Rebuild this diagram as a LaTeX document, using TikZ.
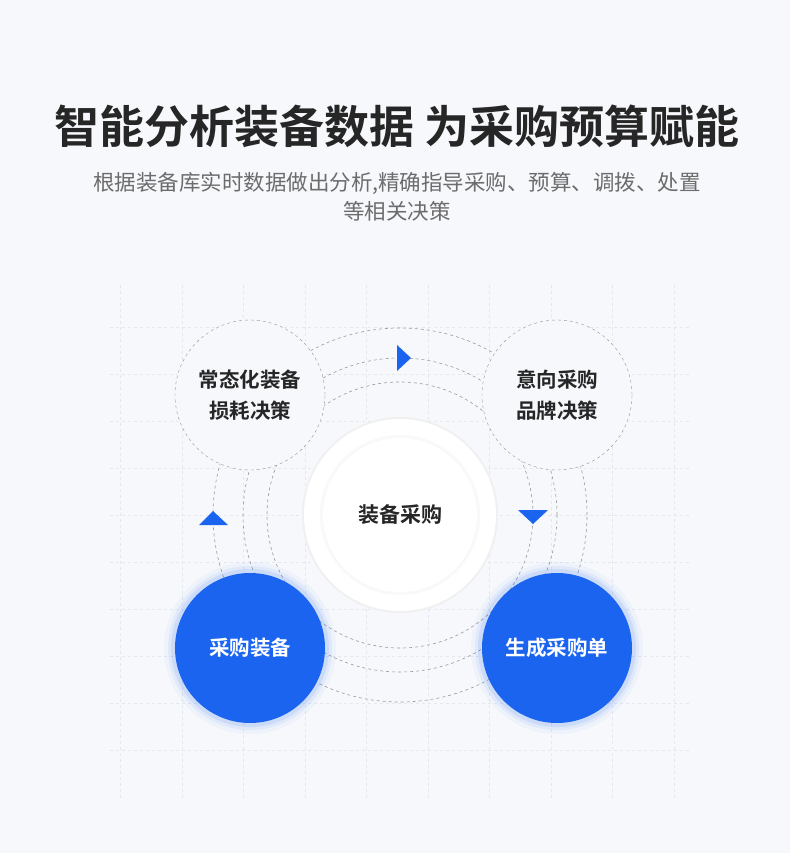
\documentclass[tikz,border=0pt]{standalone}
\usepackage{fontspec}
\setmainfont{Noto Sans CJK SC}
\newfontfamily\cjkbold{Noto Sans CJK SC Bold}
\usetikzlibrary{positioning}
\definecolor{bgcol}{HTML}{F6F8FC}
\definecolor{blue}{HTML}{1A64F0}
\definecolor{ink}{HTML}{262626}
\definecolor{gridcol}{HTML}{E3E7EF}
\tikzset{
  phase/.style={circle, minimum size=150pt, inner sep=0pt, align=center, font=\cjkbold\fontsize{20.5}{31}\selectfont},
  plain/.style={phase, fill=bgcol, draw=gray!85, dashed, text=ink},
  action/.style={phase, fill=blue, text=white},
  orbit/.style={draw=gray!80, dashed, line width=0.6pt},
  tip/.style={fill=blue}
}
\begin{document}
\begin{tikzpicture}[x=1pt,y=-1pt]
  \fill[bgcol] (0,0) rectangle (790,853);
  \useasboundingbox (0,0) rectangle (790,853);

  % grid
  \foreach \gx in {120,182,243,305,366,428,489,551,612,674}
    \draw[gridcol, dashed, line width=0.5pt] (\gx,285) -- (\gx,800);
  \foreach \gy in {327,374,421,468,515,562,609,656,703,750}
    \draw[gridcol, dashed, line width=0.5pt] (110,\gy) -- (690,\gy);

  \node[font=\cjkbold\fontsize{45}{50}\selectfont, text=ink] (title) at (397,126) {智能分析装备数据 为采购预算赋能};
  \node[font=\fontsize{21.5}{29}\selectfont, text=gray!85!black, align=center] (sub) at (397,197)
    {根据装备库实时数据做出分析,精确指导采购、预算、调拨、处置\\等相关决策};

  % orbits
  \coordinate (hub) at (400,515);
  \foreach \r in {133,157,187}
    \draw[orbit] (hub) circle[radius=\r pt];

  % centre
  \fill[gray!12] (hub) circle[radius=98pt];
  \fill[white] (hub) circle[radius=96pt];
  \fill[gray!5] (hub) circle[radius=80pt];
  \node[circle, fill=white, minimum size=154pt, inner sep=0pt, font=\cjkbold\fontsize{21}{24}\selectfont, text=ink] (core) at (hub) {装备采购};

  \node[plain] (wear) at (250,395) {常态化装备\\损耗决策};
  \node[plain] (brand) at (557,395) {意向采购\\品牌决策};
  \foreach \gx/\gy in {250/648, 557/648}
    \foreach \g/\o in {86/0.04, 82/0.06, 79/0.1}
      \fill[blue, opacity=\o] (\gx,\gy) circle[radius=\g pt];
  \node[action] (buy) at (250,648) {采购装备};
  \node[action] (order) at (557,648) {生成采购单};

  % direction marks
  \fill[tip] (397,345) -- (411,358) -- (397,371) -- cycle;
  \fill[tip] (199,525) -- (213,511) -- (228,525) -- cycle;
  \fill[tip] (518,510) -- (548,510) -- (533,524) -- cycle;
\end{tikzpicture}
\end{document}
